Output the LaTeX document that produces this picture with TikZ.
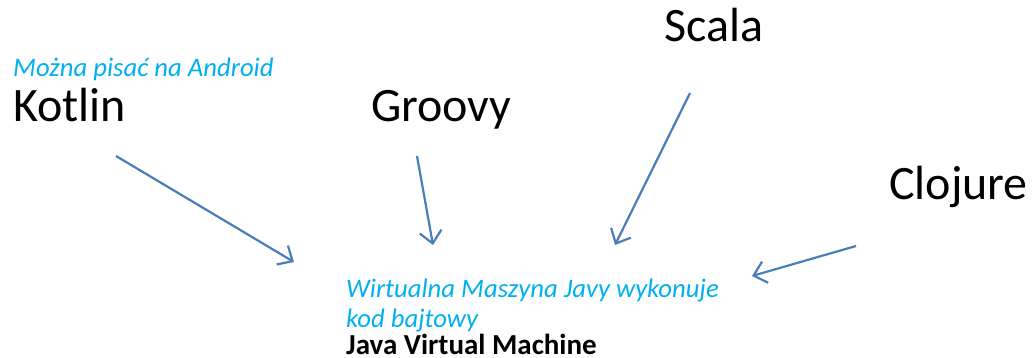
\documentclass[tikz,border=0pt]{standalone}
\usepackage{fontspec}
\setmainfont{Carlito}
\usetikzlibrary{arrows.meta}
\definecolor{arr}{HTML}{4A7EBB}
\definecolor{cy}{HTML}{00B0F0}
\begin{document}
\begin{tikzpicture}[x=1pt,y=-1pt,
  lbl/.style={anchor=base west,inner sep=0pt,font=\fontsize{48}{52}\selectfont},
  note/.style={anchor=base west,inner sep=0pt,text=cy,font=\fontsize{26.7}{30}\selectfont\itshape},
  conn/.style={draw=arr,line width=2.2pt,-{Straight Barb[length=12pt,width=22pt,line width=2.2pt]}}]
\useasboundingbox (0,0) rectangle (1034,358);
\node[note] (and) at (13,77) {Można pisać na Android};
\node[lbl] (kotlin) at (13,122) {Kotlin};
\node[lbl] (groovy) at (371,122) {Groovy};
\node[lbl] (scala) at (664,42) {Scala};
\node[lbl] (clojure) at (889,200) {Clojure};
\node[note] (jvm1) at (346,298) {Wirtualna Maszyna Javy wykonuje};
\node[note] (jvm2) at (346,327) {kod bajtowy};
\node[anchor=base west,inner sep=0pt,font=\fontsize{29}{32}\selectfont\bfseries] (jvm) at (346,354) {Java Virtual Machine};
\coordinate (k1) at (116,156); \coordinate (k2) at (294,262);
\coordinate (g1) at (417,156); \coordinate (g2) at (433,245);
\coordinate (s1) at (690,93); \coordinate (s2) at (615,245);
\coordinate (c1) at (856,246); \coordinate (c2) at (752,276);
\draw[conn] (k1) -- (k2);
\draw[conn] (g1) -- (g2);
\draw[conn] (s1) -- (s2);
\draw[conn] (c1) -- (c2);
\end{tikzpicture}
\end{document}
